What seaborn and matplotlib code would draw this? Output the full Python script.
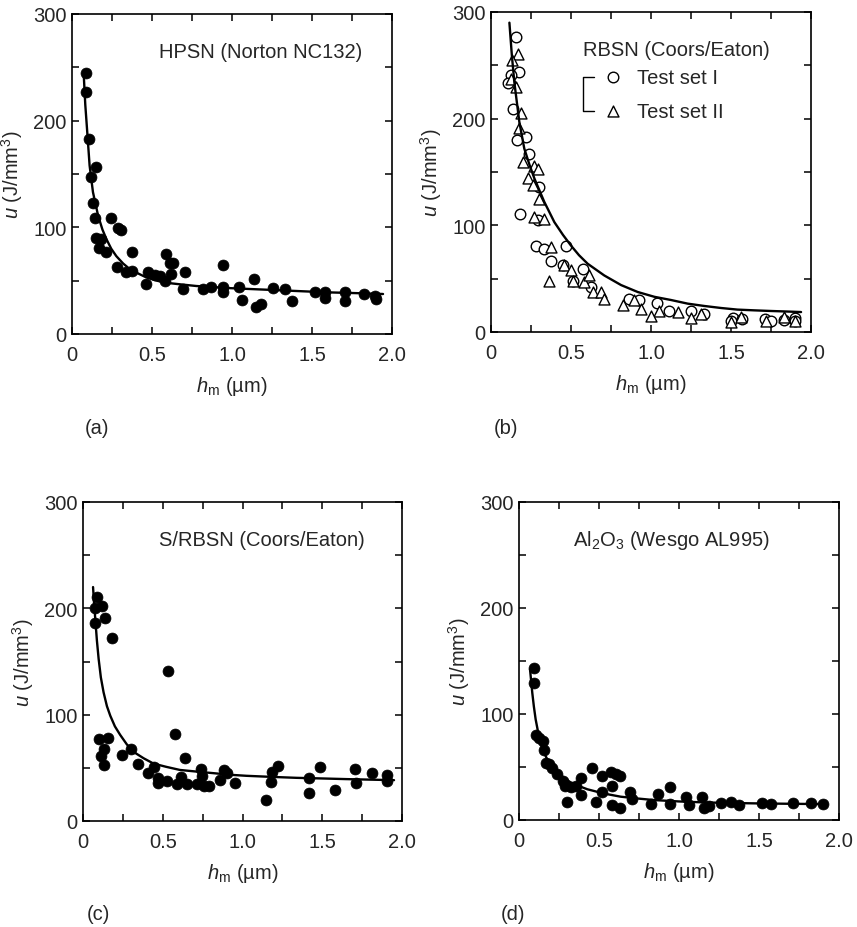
import numpy as np
import matplotlib
matplotlib.use('Agg')
import matplotlib.pyplot as plt
import seaborn as sns
from matplotlib.ticker import MultipleLocator

# --- data ---
# (a) HPSN (Norton NC132)
a_h = [0.085, 0.085, 0.106, 0.152, 0.121, 0.131, 0.142, 0.242, 0.288, 0.308, 0.148, 0.183,
       0.169, 0.210, 0.377, 0.283, 0.340, 0.377, 0.460, 0.475, 0.517, 0.548, 0.579, 0.590,
       0.610, 0.631, 0.621, 0.704, 0.694, 0.819, 0.871, 0.944, 0.944, 0.944, 1.044, 1.063,
       1.135, 1.148, 1.183, 1.256, 1.329, 1.375, 1.517, 1.579, 1.579, 1.708, 1.708, 1.825,
       1.892, 1.898]
a_u = [245, 227, 183, 157, 147, 123, 109, 109, 99, 97.5, 90, 89,
       81, 77, 77, 63, 58, 59, 47, 58, 55, 54, 50, 75,
       67, 67, 56, 58, 42, 42, 44, 65, 44, 39, 44, 32,
       52, 25, 28, 43, 42, 31, 39, 39, 34, 39, 31, 37.5,
       36, 33]
a_fit_h = [0.073, 0.083, 0.094, 0.110, 0.131, 0.163, 0.190, 0.215, 0.245, 0.277, 0.320,
           0.360, 0.410, 0.465, 0.530, 0.590, 0.680, 0.777, 0.880, 0.985, 1.140, 1.298,
           1.450, 1.610, 1.780, 1.944]
a_fit_u = [244, 215, 192, 158, 133, 111, 98, 89, 80, 73, 66,
           61, 57, 53, 50, 48, 46.5, 45, 44, 43, 42, 41,
           40, 39, 38.3, 37.5]

# (b) RBSN (Coors/Eaton), two test sets
b1_h = [0.156, 0.177, 0.125, 0.104, 0.135, 0.219, 0.163, 0.240, 0.302, 0.183, 0.292,
        0.281, 0.333, 0.469, 0.375, 0.448, 0.510, 0.573, 0.625, 0.865, 0.927, 1.040,
        1.115, 1.250, 1.330, 1.510, 1.570, 1.710, 1.830, 1.900, 1.500, 1.750, 1.900]
b1_u = [277, 244, 241, 233, 209, 183, 180, 167, 136, 111, 105,
        81, 78, 81, 67, 62.5, 48, 59, 42, 31, 30, 27,
        20, 20, 17, 13, 12, 12, 11, 13, 10, 10, 10]
b2_h = [0.167, 0.129, 0.125, 0.156, 0.188, 0.177, 0.198, 0.271, 0.292, 0.229, 0.260,
        0.302, 0.271, 0.333, 0.375, 0.365, 0.458, 0.500, 0.510, 0.583, 0.615, 0.635,
        0.688, 0.708, 0.823, 0.896, 0.938, 1.050, 1.167, 1.313, 1.563, 1.833,
        1.000, 1.250, 1.500, 1.720, 1.900]
b2_u = [261, 255, 237.5, 230, 205, 191, 159, 156, 153, 144, 137.5,
        125, 108, 106, 80, 48, 62.5, 58, 48, 47, 53, 37.5,
        37.5, 31, 25, 30, 22, 20, 19, 17, 14, 14,
        15, 13, 9, 10, 10]
b_fit_h = [0.115, 0.130, 0.146, 0.177, 0.208, 0.240, 0.271, 0.333, 0.396, 0.450, 0.500,
           0.550, 0.604, 0.708, 0.813, 0.917, 1.021, 1.125, 1.229, 1.333, 1.438, 1.540,
           1.646, 1.750, 1.850, 1.938]
b_fit_u = [290, 260, 234, 197, 172, 157, 144, 122, 103, 91, 81,
           72, 64, 53, 44, 37.5, 33, 30, 26.6, 24.4, 22.5, 21,
           20.3, 19.7, 19.2, 18.7]

# (c) S/RBSN (Coors/Eaton)
c_h = [0.088, 0.077, 0.119, 0.077, 0.135, 0.181, 0.535, 0.577, 0.098, 0.154, 0.133,
       0.113, 0.129, 0.244, 0.302, 0.342, 0.446, 0.410, 0.473, 0.473, 0.529, 0.588,
       0.613, 0.640, 0.654, 0.713, 0.738, 0.744, 0.758, 0.790, 0.858, 0.883, 0.900,
       0.952, 1.150, 1.180, 1.185, 1.225, 1.417, 1.417, 1.488, 1.583, 1.708, 1.712,
       1.813, 1.904, 1.904]
c_u = [211, 200, 202.5, 186, 190.6, 172, 140.6, 82, 77.5, 78, 67.5,
       61, 53, 62.5, 67.5, 54, 51, 45, 40.6, 36, 38, 35,
       41.5, 59, 35, 35, 49, 42.5, 33, 33, 39, 48, 45,
       36, 20, 37, 46, 52, 40, 26, 51, 29, 49, 36,
       45.6, 43, 38]
c_fit_h = [0.063, 0.070, 0.077, 0.087, 0.098, 0.112, 0.129, 0.150, 0.171, 0.200, 0.233,
           0.275, 0.317, 0.380, 0.442, 0.520, 0.608, 0.710, 0.817, 0.920, 1.025, 1.180,
           1.338, 1.500, 1.650, 1.800, 1.950]
c_fit_u = [220, 203, 190, 170, 152.5, 135, 121, 108, 99, 89, 81,
           72, 65, 59, 54, 51, 48, 46.5, 45, 43.5, 42.5, 41.5,
           40.6, 40, 39.4, 38.9, 38.4]

# (d) Al2O3 (Wesgo AL995)
d_h = [0.094, 0.094, 0.104, 0.125, 0.152, 0.156, 0.167, 0.188, 0.208, 0.240, 0.277,
       0.285, 0.302, 0.327, 0.354, 0.385, 0.385, 0.458, 0.479, 0.517, 0.521, 0.573,
       0.583, 0.579, 0.604, 0.631, 0.629, 0.694, 0.708, 0.823, 0.869, 0.944, 0.944,
       1.042, 1.063, 1.142, 1.156, 1.188, 1.260, 1.327, 1.375, 1.520, 1.573, 1.715,
       1.823, 1.902]
d_u = [143, 129.5, 80, 77.7, 74.6, 66, 54, 53, 49.5, 43, 37,
       32, 16.6, 31, 32, 39.5, 23.5, 49.5, 17, 26.6, 41.7, 45,
       32, 14, 43, 41.7, 11, 26.6, 20, 15, 25, 30.7, 15,
       22, 14, 22, 11, 13.5, 16, 16.6, 14, 15.7, 15, 15.7,
       15.7, 15]
d_fit_h = [0.069, 0.076, 0.083, 0.093, 0.104, 0.118, 0.135, 0.155, 0.177, 0.205, 0.240,
           0.280, 0.323, 0.375, 0.427, 0.530, 0.635, 0.740, 0.844, 1.000, 1.156, 1.310,
           1.469, 1.690, 1.906]
d_fit_u = [142, 131, 120, 107, 95, 84, 73, 64, 57, 50.5, 45,
           40, 35.4, 32, 29, 25, 22, 20.3, 18.8, 17.5, 16.6, 16.1,
           15.7, 15.3, 15]

titles = ['HPSN (Norton NC132)', 'RBSN (Coors/Eaton)',
          'S/RBSN (Coors/Eaton)', r'Al$_2$O$_3$ (Wesgo AL995)']
letters = ['(a)', '(b)', '(c)', '(d)']

# --- style ---
sns.set_style('ticks')
plt.rcParams['font.family'] = ['Liberation Sans', 'DejaVu Sans']
plt.rcParams.update({
    'mathtext.fontset': 'custom',
    'mathtext.rm': 'Liberation Sans',
    'mathtext.it': 'Liberation Sans:italic',
    'mathtext.bf': 'Liberation Sans:bold',
    'font.size': 14.5,
    'axes.linewidth': 1.2,
    'axes.edgecolor': 'black',
})

W, H = 857, 928
fig = plt.figure(figsize=(W / 100, H / 100), dpi=100)


def box(l, t, r, b):
    return [l / W, 1 - b / H, (r - l) / W, (b - t) / H]


boxes = [box(72, 15, 392, 335), box(491, 13, 811, 333),
         box(83, 503, 402, 822), box(519, 503, 839, 821)]
axes = [fig.add_axes(bx) for bx in boxes]

scat = dict(color='black', s=62, edgecolor='black', linewidth=0.5, zorder=3)
line = dict(color='black', lw=1.7, sort=False, estimator=None, zorder=4)

# (a)
sns.scatterplot(x=a_h, y=a_u, ax=axes[0], **scat)
sns.lineplot(x=a_fit_h, y=a_fit_u, ax=axes[0], **line)
# (b)
sns.scatterplot(x=b1_h, y=b1_u, ax=axes[1], marker='o', s=58, facecolor='white',
                edgecolor='black', linewidth=1.0, zorder=3)
sns.scatterplot(x=b2_h, y=b2_u, ax=axes[1], marker='^', s=62, facecolor='white',
                edgecolor='black', linewidth=1.0, zorder=3)
sns.lineplot(x=b_fit_h, y=b_fit_u, ax=axes[1], **line)
# (c)
sns.scatterplot(x=c_h, y=c_u, ax=axes[2], **scat)
sns.lineplot(x=c_fit_h, y=c_fit_u, ax=axes[2], **line)
# (d)
sns.scatterplot(x=d_h, y=d_u, ax=axes[3], **scat)
sns.lineplot(x=d_fit_h, y=d_fit_u, ax=axes[3], **line)

title_x = [1.18, 1.16, 1.12, 0.95]
for i, ax in enumerate(axes):
    ax.set_xlim(0, 2.0)
    ax.set_ylim(0, 300)
    ax.xaxis.set_minor_locator(MultipleLocator(0.25))
    ax.yaxis.set_minor_locator(MultipleLocator(50))
    ax.set_xticks([0, 0.5, 1.0, 1.5, 2.0], ['0', '0.5', '1.0', '1.5', '2.0'])
    ax.set_yticks([0, 100, 200, 300], ['0', '100', '200', '300'])
    for s in ax.spines.values():
        s.set_visible(True)
        s.set_linewidth(1.2)
    ax.tick_params(which='both', direction='in', top=True, right=True,
                   length=5, width=1.1, color='black', labelsize=14.5)
    ax.tick_params(axis='x', which='major', pad=8)
    ax.tick_params(axis='y', which='major', pad=4)
    ax.set_xlabel(r'$h_\mathrm{m}$ (µm)', fontsize=14.5, labelpad=7)
    ax.set_ylabel(r'$u$ (J/mm$^3$)', fontsize=14.5, labelpad=6)
    ax.text(title_x[i], 265, titles[i], ha='center', va='center', fontsize=14.5)

# legend bracket for (b)
axb = axes[1]
axb.plot([0.646, 0.573, 0.573, 0.646], [239, 239, 207, 207], color='black', lw=1.0)
axb.scatter([0.76], [239], marker='o', s=58, facecolor='white', edgecolor='black', linewidth=1.0)
axb.scatter([0.76], [207], marker='^', s=62, facecolor='white', edgecolor='black', linewidth=1.0)
axb.text(0.91, 239, 'Test set I', ha='left', va='center', fontsize=14.5)
axb.text(0.91, 207, 'Test set II', ha='left', va='center', fontsize=14.5)

# panel letters
for (px, py), lab in zip([(97, 428), (506, 428), (98, 915), (513, 915)], letters):
    fig.text(px / W, 1 - py / H, lab, ha='center', va='center', fontsize=14.5)

fig.savefig('out.png', dpi=100)
